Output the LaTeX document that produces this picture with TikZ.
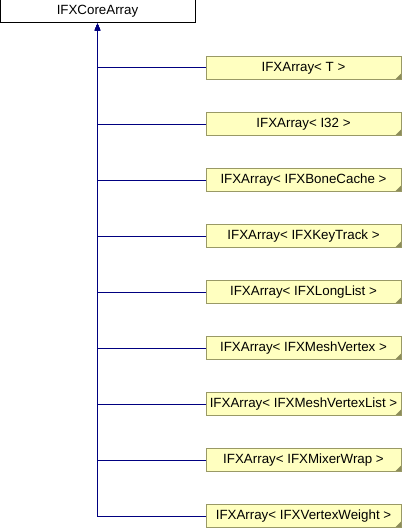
\documentclass[tikz,border=0pt]{standalone}
\usepackage{fontspec}
\setmainfont{Liberation Sans}
\usetikzlibrary{arrows.meta}
\definecolor{navyline}{RGB}{0,0,128}
\definecolor{yelfill}{RGB}{255,255,192}
\definecolor{yelborder}{RGB}{153,153,102}
\definecolor{yelfold}{RGB}{140,140,90}
\tikzset{
  px/.style={x=0.75pt,y=-0.75pt},
  base/.style={draw=black,fill=white,line width=0.75pt,minimum width=146.25pt,minimum height=17.25pt,inner sep=0pt,font=\fontsize{10pt}{12pt}\selectfont},
  yel/.style={draw=yelborder,fill=yelfill,line width=0.75pt,minimum width=146.25pt,minimum height=17.25pt,inner sep=0pt,font=\fontsize{10pt}{12pt}\selectfont,
    path picture={\fill[yelfold] (path picture bounding box.south east) -- ++(-4.5pt,0pt) -- ++(4.5pt,4.5pt) -- cycle;}},
  inh/.style={draw=navyline,line width=0.75pt,-{Triangle[length=5.25pt,width=4pt]}}
}
\begin{document}
\begin{tikzpicture}[px]
\useasboundingbox (0,0) rectangle (402,528);
\node[base] (core) at (97.5,11.5) {IFXCoreArray};
\node[yel] (a1) at (303.5,68) {IFXArray< T >};
\node[yel] (a2) at (303.5,124) {IFXArray< I32 >};
\node[yel] (a3) at (303.5,180) {IFXArray< IFXBoneCache >};
\node[yel] (a4) at (303.5,236) {IFXArray< IFXKeyTrack >};
\node[yel] (a5) at (303.5,292) {IFXArray< IFXLongList >};
\node[yel] (a6) at (303.5,348) {IFXArray< IFXMeshVertex >};
\node[yel] (a7) at (303.5,404) {IFXArray< IFXMeshVertexList >};
\node[yel] (a8) at (303.5,460) {IFXArray< IFXMixerWrap >};
\node[yel] (a9) at (303.5,516) {IFXArray< IFXVertexWeight >};
\foreach \n in {a1,a2,a3,a4,a5,a6,a7,a8,a9}{
  \draw[inh] (\n.west) -| (core.south);
}
\end{tikzpicture}
\end{document}
